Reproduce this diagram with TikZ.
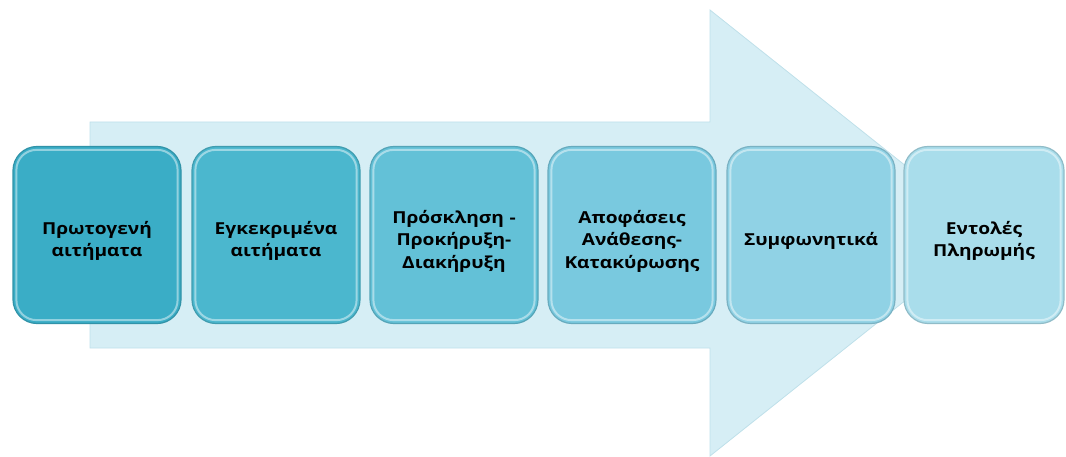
\documentclass[tikz,border=0pt]{standalone}
\usepackage{fontspec}
\setmainfont{Open Sans}[FakeStretch=1.16]
\begin{document}
\begin{tikzpicture}[x=1pt,y=-1pt,
  stepbox/.style={rounded corners=24pt, minimum width=168pt, minimum height=177pt,
    inner sep=2pt, align=center, font=\bfseries\fontsize{16.5}{22.5}\selectfont,
    text width=164pt, line width=1.2pt},
  arrowbody/.style={fill=arrowfill, draw=arrowedge, line width=0.8pt}]
\definecolor{arrowfill}{HTML}{D6EEF5}
\definecolor{arrowedge}{HTML}{BFE0EA}
\definecolor{cA}{HTML}{3AADC6}
\definecolor{cB}{HTML}{4BB7CE}
\definecolor{cC}{HTML}{63C1D7}
\definecolor{cD}{HTML}{79C9DF}
\definecolor{cE}{HTML}{90D2E5}
\definecolor{cF}{HTML}{A9DDEB}
\useasboundingbox (0,0) rectangle (1066,457);
\draw[arrowbody] (90,122) -- (710,122) -- (710,10) -- (990,233) -- (710,456) -- (710,348) -- (90,348) -- cycle;
\foreach \n/\x/\w/\c/\t in {
  a/97/168/cA/{Πρωτογενή\\αιτήματα},
  b/276/168/cB/{Εγκεκριμένα\\αιτήματα},
  c/454/168/cC/{Πρόσκληση -\\Προκήρυξη-\\Διακήρυξη},
  d/632/168/cD/{Αποφάσεις\\Ανάθεσης-\\Κατακύρωσης},
  e/811/168/cE/{Συμφωνητικά},
  f/984/160/cF/{Εντολές\\Πληρωμής}}{
  \node[stepbox, minimum width=\w pt, text width=\w pt-4pt, fill=\c, draw=\c!75!black!60!\c] (\n) at (\x,235) {};
  \draw[white, opacity=0.45, line width=2pt, rounded corners=20pt]
    ([shift={(4,4)}]\n.north west) rectangle ([shift={(-4,-4)}]\n.south east);
  \node[align=center, font=\bfseries\fontsize{16.5}{22.5}\selectfont, text width=\w pt-4pt] at ([yshift=-6pt]\n.center) {\t};
}
\end{tikzpicture}
\end{document}
